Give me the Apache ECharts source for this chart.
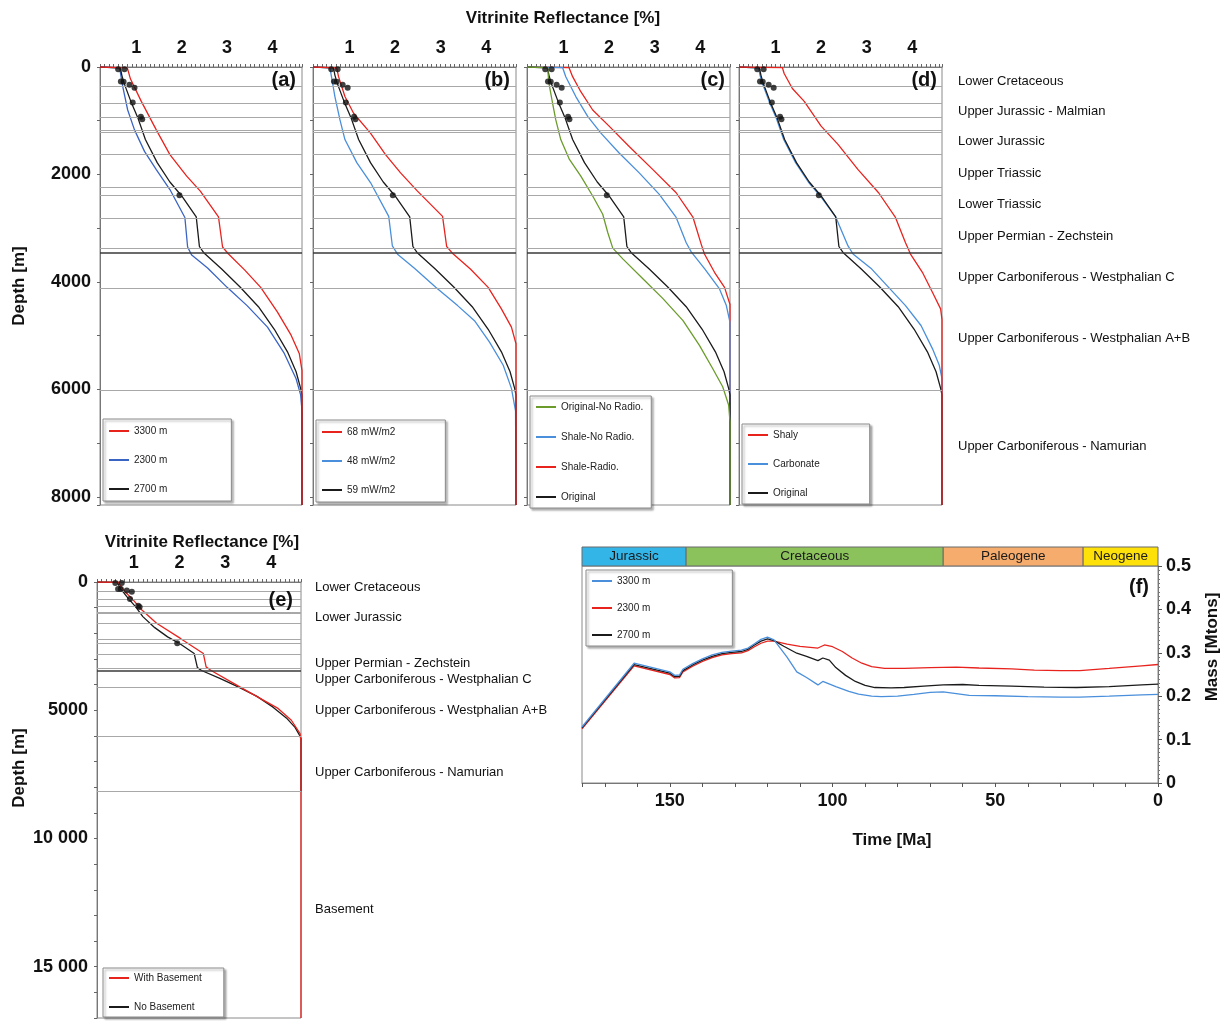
<!DOCTYPE html>
<html><head><meta charset="utf-8">
<script src="https://cdn.jsdelivr.net/npm/echarts@6/dist/echarts.min.js"></script>
<style>html,body{margin:0;padding:0;background:#fff}#c{width:1227px;height:1021px}</style>
</head><body><div id="c"></div>
<script>
// ---------------- DATA ----------------
// Vitrinite reflectance profiles: [VR %, depth m]
const vrOriginal = [[0.2,0],[0.65,15],[0.68,150],[0.73,300],[0.88,640],[1.04,960],[1.2,1350],[1.46,1780],[1.74,2140],[2.0,2400],[2.32,2790],[2.39,3340],[2.48,3450],[2.88,3760],[3.28,4090],[3.69,4460],[4.04,4880],[4.33,5300],[4.52,5670],[4.62,5980],[4.65,6100],[4.65,8150]];
const vrA3300 = [[0.2,0],[0.8,15],[0.83,100],[0.87,220],[1.11,640],[1.44,1170],[1.74,1630],[2.11,2030],[2.41,2310],[2.81,2790],[2.90,3350],[3.02,3470],[3.39,3780],[3.74,4100],[4.11,4560],[4.41,4990],[4.59,5330],[4.65,5650],[4.65,8150]];
const vrA2300 = [[0.2,0],[0.62,15],[0.64,60],[0.70,360],[0.81,800],[0.96,1170],[1.18,1570],[1.44,1910],[1.74,2280],[2.07,2800],[2.13,3350],[2.22,3500],[2.57,3740],[3.0,4100],[3.44,4440],[3.89,4840],[4.26,5330],[4.52,5800],[4.62,6100],[4.65,6400],[4.65,8150]];
const vrB68 = [[0.2,0],[0.72,15],[0.76,180],[0.90,550],[1.09,860],[1.46,1230],[1.79,1630],[2.12,1970],[2.49,2310],[3.04,2780],[3.13,3340],[3.25,3460],[3.65,3760],[4.04,4100],[4.33,4500],[4.55,4840],[4.65,5150],[4.65,8150]];
const vrB48 = [[0.2,0],[0.57,15],[0.58,60],[0.68,550],[0.79,980],[0.90,1350],[1.16,1780],[1.46,2150],[1.86,2780],[1.94,3330],[2.06,3490],[2.43,3750],[2.89,4100],[3.37,4440],[3.74,4720],[4.07,5120],[4.37,5550],[4.55,5980],[4.64,6400],[4.65,8150]];
const vrCNoRadio = [[0.2,0],[0.65,10],[0.66,100],[0.68,300],[0.76,670],[0.83,980],[0.94,1350],[1.13,1720],[1.38,2030],[1.64,2400],[1.86,2740],[1.97,3080],[2.08,3370],[2.30,3570],[2.74,3940],[3.18,4310],[3.62,4720],[3.98,5180],[4.27,5610],[4.49,5950],[4.62,6290],[4.65,6600],[4.65,8150]];
const vrCShaleNoRadio = [[0.2,0],[0.98,10],[1.05,180],[1.27,550],[1.53,920],[1.82,1230],[2.22,1600],[2.66,1970],[3.10,2370],[3.47,2800],[3.69,3270],[3.80,3440],[4.10,3760],[4.42,4130],[4.57,4440],[4.65,4750],[4.65,8150]];
const vrCShaleRadio = [[0.2,0],[1.12,10],[1.2,180],[1.38,460],[1.64,800],[2.0,1100],[2.44,1480],[2.96,1910],[3.47,2340],[3.84,2800],[4.02,3300],[4.09,3480],[4.31,3820],[4.53,4100],[4.65,4420],[4.65,8150]];
const vrDShaly = [[0.2,0],[1.15,10],[1.19,120],[1.37,400],[1.63,640],[2.0,1100],[2.37,1440],[2.81,1910],[3.26,2340],[3.63,2800],[3.85,3270],[3.96,3480],[4.22,3820],[4.44,4190],[4.62,4500],[4.65,4700],[4.65,8150]];
const vrDCarbonate = [[0.2,0],[0.63,15],[0.66,150],[0.71,300],[0.86,640],[1.02,960],[1.18,1350],[1.44,1780],[1.72,2140],[1.98,2400],[2.32,2790],[2.59,3330],[2.70,3480],[3.11,3760],[3.48,4100],[3.85,4440],[4.19,4810],[4.44,5240],[4.59,5550],[4.65,5800],[4.65,8150]];
const vrEWithBasement = [[0.2,0],[0.67,10],[0.70,120],[0.81,380],[0.96,640],[1.18,1090],[1.50,1610],[2.02,2200],[2.52,2790],[2.58,3310],[2.68,3440],[3.19,3960],[3.70,4480],[4.15,4930],[4.44,5390],[4.63,5910],[4.65,6200],[4.65,17000]];
// measured vitrinite reflectance [VR %, depth m]
const vrMeasured = [[0.6,40],[0.74,40],[0.66,270],[0.72,275],[0.85,330],[0.96,385],[0.92,660],[1.10,925],[1.13,970],[1.95,2385]];
// formation tops (m)
const formationTops = [353,670,930,1172,1209,1619,2233,2381,2809,3367,4112,6009];
const majorTops = [3460];
const basementTop = [8150];
const formationNamesTop = ['Lower Cretaceous','Upper Jurassic - Malmian','Lower Jurassic','Upper Triassic','Lower Triassic','Upper Permian - Zechstein','Upper Carboniferous - Westphalian C','Upper Carboniferous - Westphalian A+B','Upper Carboniferous - Namurian'];
const formationNamesE = ['Lower Cretaceous','Lower Jurassic','Upper Permian - Zechstein','Upper Carboniferous - Westphalian C','Upper Carboniferous - Westphalian A+B','Upper Carboniferous - Namurian','Basement'];
// generated mass [Ma, Mtons]
const mass3300 = [[177,0.129],[161,0.276],[150,0.256],[148.5,0.248],[147,0.249],[146,0.262],[143,0.275],[140,0.286],[137,0.295],[134,0.301],[131,0.304],[128,0.306],[126,0.311],[124,0.321],[122,0.331],[120,0.336],[118,0.330],[114,0.290],[111,0.256],[108,0.243],[104.5,0.226],[103,0.234],[99,0.222],[95,0.211],[92,0.205],[88,0.200],[85,0.199],[80,0.200],[75,0.204],[70,0.209],[66,0.210],[62,0.206],[58,0.202],[50,0.201],[40,0.199],[30,0.198],[24,0.198],[15,0.200],[5,0.203],[0,0.204]];
const mass2700 = [[177,0.127],[161,0.273],[150,0.253],[148.5,0.245],[147,0.246],[146,0.259],[143,0.272],[140,0.283],[137,0.292],[134,0.298],[131,0.301],[128,0.303],[126,0.308],[124,0.318],[122,0.327],[120,0.332],[118,0.328],[115,0.315],[111,0.299],[108,0.292],[104.5,0.282],[103,0.288],[101,0.283],[99,0.266],[96,0.248],[93,0.234],[90,0.225],[87,0.220],[82,0.219],[78,0.220],[72,0.223],[66,0.226],[60,0.227],[55,0.225],[45,0.223],[35,0.221],[25,0.220],[15,0.222],[5,0.226],[0,0.228]];
const mass2300 = [[177,0.125],[161,0.270],[150,0.250],[148.5,0.242],[147,0.243],[146,0.256],[143,0.269],[140,0.280],[137,0.289],[134,0.295],[131,0.298],[128,0.300],[126,0.305],[124,0.314],[122,0.322],[120,0.327],[118,0.327],[114,0.320],[110,0.315],[104.5,0.311],[102.5,0.318],[100,0.314],[97,0.303],[94,0.288],[91,0.276],[88,0.268],[84,0.264],[78,0.264],[70,0.266],[62,0.267],[55,0.265],[45,0.263],[38,0.260],[30,0.259],[24,0.259],[15,0.264],[5,0.270],[0,0.273]];
// geological periods (Ma)
const periodNames = ['Jurassic','Cretaceous','Paleogene','Neogene'];
const periodStart = [177,145,66,23];
const periodEnd = [145,66,23,0];

// ---------------- STYLE / LAYOUT ----------------
const FONT = '"Liberation Sans", Arial, Helvetica, sans-serif';
const COL = {red:'#e8231e', blueA:'#3a64c4', blue:'#4a8fdb', green:'#6b9c2b', black:'#1b1b1b'};
const periodColors = ['#33b5e8','#8cc25c','#f5ac6c','#ffe10a'];
const labelYTop = [81,111,141,173,204,236,277,338,446];
const labelYE = [587,617,663,679,710,772,909];

const grids = [
  {left:100, top:67, width:202, height:438},
  {left:313, top:67, width:203, height:438},
  {left:527, top:67, width:203, height:438},
  {left:739, top:67, width:203, height:438},
  {left:97, top:582, width:204, height:436},
  {left:582, top:566, width:576, height:217},
  {left:582, top:547, width:576, height:19}
].map(g => Object.assign({show:true, borderColor:'#8a8a8a', borderWidth:1, backgroundColor:'transparent'}, g));
grids[6].show = false;

const numLabel = {fontFamily:FONT, fontWeight:'bold', fontSize:18, color:'#111'};

function vrAxis(gi){
  return {type:'value', gridIndex:gi, position:'top', min:0.2, max:4.65, interval:0.1,
    axisLine:{show:true, lineStyle:{color:'#777'}},
    axisTick:{show:true, length:3, lineStyle:{color:'#666'}},
    axisLabel:Object.assign({margin:10, formatter:v => (Math.abs(v-Math.round(v))<1e-6 && Math.round(v)>=1) ? String(Math.round(v)) : ''}, numLabel),
    splitLine:{show:false}};
}
function depthAxis(gi, max, showLabel, fmt){
  return {type:'value', gridIndex:gi, inverse:true, min:0, max:max, interval:1000,
    axisLine:{show:true, lineStyle:{color:'#777'}},
    axisTick:{show:true, length:3, lineStyle:{color:'#666'}},
    axisLabel:Object.assign({show:showLabel, margin:9, formatter:fmt}, numLabel),
    splitLine:{show:false}};
}
const fmtTop = v => (v % 2000 === 0) ? String(v) : '';
const fmtE = v => (v % 5000 === 0) ? (v >= 10000 ? String(v).replace(/(\d{3})$/, ' $1') : String(v)) : '';

const xAxes = [vrAxis(0), vrAxis(1), vrAxis(2), vrAxis(3), vrAxis(4),
  {type:'value', gridIndex:5, min:0, max:177, inverse:true, interval:10,
    axisLine:{show:true, lineStyle:{color:'#777'}},
    axisTick:{show:true, length:4, lineStyle:{color:'#555'}},
    axisLabel:Object.assign({margin:9, formatter:v => (v % 50 === 0) ? String(v) : ''}, numLabel),
    splitLine:{show:false}},
  {type:'value', gridIndex:6, min:0, max:177, inverse:true, show:false}
];
const yAxes = [depthAxis(0, 8150, true, fmtTop), depthAxis(1, 8150, false), depthAxis(2, 8150, false), depthAxis(3, 8150, false),
  depthAxis(4, 17000, true, fmtE),
  {type:'value', gridIndex:5, position:'right', min:0, max:0.5, interval:0.1,
    axisLine:{show:true, lineStyle:{color:'#777'}},
    axisTick:{show:true, length:4, lineStyle:{color:'#555'}},
    minorTick:{show:true, splitNumber:10, length:2, lineStyle:{color:'#777'}},
    axisLabel:Object.assign({margin:8, formatter:v => String(Math.round(v*10)/10)}, numLabel),
    splitLine:{show:false}},
  {type:'value', gridIndex:6, min:0, max:1, show:false}
];

const series = [];
function formationSeries(gi, extra){
  const data = formationTops.map(d => ({yAxis:d, lineStyle:{color:'#a8a8a8', width:1, type:'solid'}}))
    .concat(majorTops.map(d => ({yAxis:d, lineStyle:{color:'#3a3a3a', width:1.6, type:'solid'}})))
    .concat((extra||[]).map(d => ({yAxis:d, lineStyle:{color:'#a8a8a8', width:1.2, type:'solid'}})));
  series.push({name:'fm'+gi, type:'line', xAxisIndex:gi, yAxisIndex:gi, data:[[0.2,0]], symbol:'none',
    lineStyle:{opacity:0}, silent:true, z:1,
    markLine:{silent:true, symbol:'none', label:{show:false}, animation:false, data:data}});
}
function curve(gi, name, data, color, z){
  series.push({name:name, type:'line', xAxisIndex:gi, yAxisIndex:gi, data:data, symbol:'none', showSymbol:false,
    lineStyle:{color:color, width:1.3}, itemStyle:{color:color}, z:z||2, silent:true});
}
function points(gi){
  series.push({name:'pts'+gi, type:'scatter', xAxisIndex:gi, yAxisIndex:gi, data:vrMeasured, symbolSize:6,
    itemStyle:{color:'#111'}, z:5, silent:true});
}
// (a)
formationSeries(0);
curve(0, 'a|2300 m', vrA2300, COL.blueA);
curve(0, 'a|2700 m', vrOriginal, COL.black);
curve(0, 'a|3300 m', vrA3300, COL.red, 3);
points(0);
// (b)
formationSeries(1);
curve(1, 'b|48 mW/m2', vrB48, COL.blue);
curve(1, 'b|59 mW/m2', vrOriginal, COL.black);
curve(1, 'b|68 mW/m2', vrB68, COL.red, 3);
points(1);
// (c)
formationSeries(2);
curve(2, 'c|Shale-Radio.', vrCShaleRadio, COL.red);
curve(2, 'c|Shale-No Radio.', vrCShaleNoRadio, COL.blue);
curve(2, 'c|Original', vrOriginal, COL.black);
curve(2, 'c|Original-No Radio.', vrCNoRadio, COL.green, 3);
points(2);
// (d)
formationSeries(3);
curve(3, 'd|Carbonate', vrDCarbonate, COL.blue);
curve(3, 'd|Original', vrOriginal, COL.black);
curve(3, 'd|Shaly', vrDShaly, COL.red, 3);
points(3);
// (e)
formationSeries(4, basementTop);
curve(4, 'e|No Basement', vrOriginal, COL.black);
curve(4, 'e|With Basement', vrEWithBasement, COL.red, 3);
points(4);
// (f)
curve(5, 'f|2300 m', mass2300, COL.red);
curve(5, 'f|2700 m', mass2700, COL.black);
curve(5, 'f|3300 m', mass3300, COL.blue);
series.push({name:'periods', type:'custom', xAxisIndex:6, yAxisIndex:6, silent:true,
  data: periodNames.map((n,i) => [periodStart[i], periodEnd[i], i]),
  encode:{x:[0,1]},
  renderItem:(params, api) => {
    const p0 = api.coord([api.value(0), 1]);
    const p1 = api.coord([api.value(1), 0]);
    const i = api.value(2);
    return {type:'rect',
      shape:{x:Math.min(p0[0],p1[0]), y:p0[1], width:Math.abs(p1[0]-p0[0]), height:p1[1]-p0[1]},
      style:{fill:periodColors[i], stroke:'#6a6a6a', lineWidth:1},
      textContent:{style:{text:periodNames[i], fill:'#1a1a1a', font:'13.5px '+FONT}},
      textConfig:{position:'inside'}};
  }});

function legend(left, top, names, pad, gap){
  return {left:left, top:top, orient:'vertical', data:names, itemGap:gap, itemWidth:20, itemHeight:2,
    icon:'rect', padding:pad, borderColor:'#8a8a8a', borderWidth:1, backgroundColor:'#fff',
    shadowColor:'rgba(0,0,0,0.3)', shadowBlur:2, shadowOffsetX:2, shadowOffsetY:2,
    selectedMode:false, textStyle:{fontFamily:FONT, fontSize:10, color:'#222'},
    formatter:n => n.split('|')[1]};
}
const legends = [
  legend(103, 419, ['a|3300 m','a|2300 m','a|2700 m'], [7,64,7,6], 19),
  legend(316, 420, ['b|68 mW/m2','b|48 mW/m2','b|59 mW/m2'], [7,50,7,6], 19),
  legend(530, 396, ['c|Original-No Radio.','c|Shale-No Radio.','c|Shale-Radio.','c|Original'], [6,8,6,6], 20),
  legend(742, 424, ['d|Shaly','d|Carbonate','d|Original'], [6,50,6,6], 19),
  legend(103, 968, ['e|With Basement','e|No Basement'], [5,22,5,6], 19),
  legend(586, 570, ['f|3300 m','f|2300 m','f|2700 m'], [6,82,6,6], 17)
];

function txt(x, y, text, font, align, rot){
  return {type:'text', x:x, y:y, rotation:rot||0, silent:true, z:10,
    style:{text:text, font:font, fill:'#111', textAlign:align||'left', align:align||'left',
      textVerticalAlign:'middle', verticalAlign:'middle'}};
}
const bold17 = 'bold 17px '+FONT;
const letterFont = 'bold 20px '+FONT;
const fmFont = '13px '+FONT;
const graphics = [
  txt(563, 18, 'Vitrinite Reflectance [%]', bold17, 'center'),
  txt(202, 542, 'Vitrinite Reflectance [%]', bold17, 'center'),
  txt(19, 286, 'Depth [m]', bold17, 'center', Math.PI/2),
  txt(19, 768, 'Depth [m]', bold17, 'center', Math.PI/2),
  txt(892, 840, 'Time [Ma]', bold17, 'center'),
  txt(1212, 647, 'Mass [Mtons]', bold17, 'center', Math.PI/2),
  txt(296, 80, '(a)', letterFont, 'right'),
  txt(510, 80, '(b)', letterFont, 'right'),
  txt(725, 80, '(c)', letterFont, 'right'),
  txt(937, 80, '(d)', letterFont, 'right'),
  txt(293, 600, '(e)', letterFont, 'right'),
  txt(1149, 587, '(f)', letterFont, 'right')
];
formationNamesTop.forEach((n,i) => graphics.push(txt(958, labelYTop[i], n, fmFont, 'left')));
formationNamesE.forEach((n,i) => graphics.push(txt(315, labelYE[i], n, fmFont, 'left')));

const chart = echarts.init(document.getElementById('c'), null, {renderer:'canvas'});
chart.setOption({
  animation:false,
  backgroundColor:'#fff',
  textStyle:{fontFamily:FONT},
  grid:grids, xAxis:xAxes, yAxis:yAxes, series:series, legend:legends, graphic:graphics
});
</script></body></html>
